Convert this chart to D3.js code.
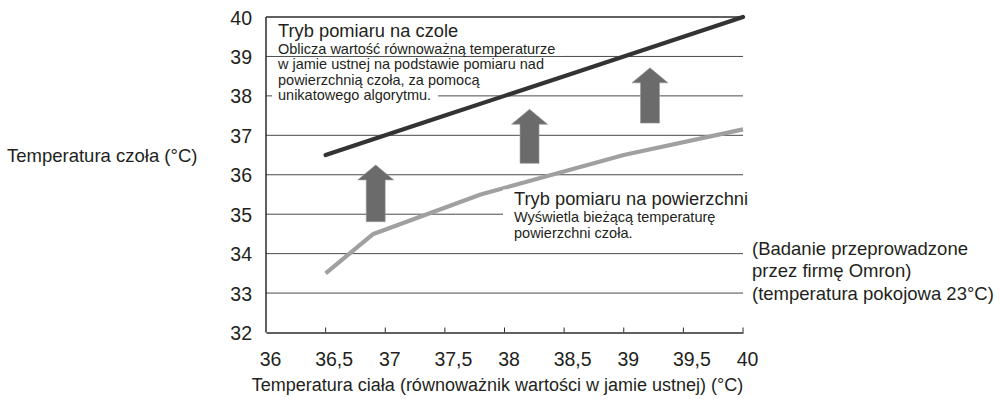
<!DOCTYPE html>
<html>
<head>
<meta charset="utf-8">
<script src="https://cdn.jsdelivr.net/npm/d3@7/dist/d3.min.js"></script>
<style>
  html, body { margin: 0; padding: 0; background: #fff; }
  svg { display: block; }
  text { font-family: "Liberation Sans", Arial, Helvetica, sans-serif; fill: #231f20; }
</style>
</head>
<body>
<svg id="chart" width="1001" height="399"></svg>
<script>
// Body temperature (oral equivalent) on the x axis
const xTickValues = [36, 36.5, 37, 37.5, 38, 38.5, 39, 39.5, 40];
const xTickLabels = ["36", "36,5", "37", "37,5", "38", "38,5", "39", "39,5", "40"];
const yTickValues = [32, 33, 34, 35, 36, 37, 38, 39, 40];
const yTickLabels = ["32", "33", "34", "35", "36", "37", "38", "39", "40"];

// Forehead mode: oral-equivalent value
const foreheadBody = [36.5, 37, 37.5, 38, 38.5, 39, 39.5, 40];
const foreheadMode = [36.5, 37, 37.5, 38, 38.5, 39, 39.5, 40];

// Surface mode: raw forehead surface temperature
const surfaceBody = [36.5, 36.9, 37.8, 39, 40];
const surfaceMode = [33.5, 34.5, 35.5, 36.5, 37.15];

// Up arrows between the two curves
const arrowBody = [36.92, 38.21, 39.22];
const arrowFrom = [34.81, 36.29, 37.31];
const arrowTo   = [36.25, 37.66, 38.71];

const foreheadText = [
  "Oblicza wartość równoważną temperaturze",
  "w jamie ustnej na podstawie pomiaru nad",
  "powierzchnią czoła, za pomocą",
  "unikatowego algorytmu."
];
const surfaceText = [
  "Wyświetla bieżącą temperaturę",
  "powierzchni czoła."
];
const noteText = [
  "(Badanie przeprowadzone",
  "przez firmę Omron)",
  "(temperatura pokojowa 23°C)"
];

const svg = d3.select("#chart");
const plotLeft = 266, plotRight = 743, plotTop = 17, plotBottom = 332.5;

const x = d3.scaleLinear().domain([36, 40]).range([plotLeft, plotRight]);
const y = d3.scaleLinear().domain([32, 40]).range([plotBottom, plotTop]);

// Horizontal grid lines
svg.append("g")
  .selectAll("line")
  .data(yTickValues.filter(v => v > 32))
  .join("line")
  .attr("x1", plotLeft).attr("x2", plotRight)
  .attr("y1", d => y(d)).attr("y2", d => y(d))
  .attr("stroke", d => d === 40 ? "#2b2b2b" : "#4a4a4a")
  .attr("stroke-width", d => d === 40 ? 1.5 : 1);

// Forehead-mode caption, each line on its own white panel
const capX = plotLeft + 12;
const foreheadG = svg.append("g");
const headingBaseline = 37;
const lineBaselines = [54, 69.3, 84.6, 99.9];
const bgG = foreheadG.append("g");
const txtG = foreheadG.append("g");
txtG.append("text")
  .attr("x", capX).attr("y", headingBaseline)
  .style("font-size", "18.3px")
  .text("Tryb pomiaru na czole");
txtG.selectAll("text.sub")
  .data(foreheadText)
  .join("text")
  .attr("class", "sub")
  .attr("x", capX)
  .attr("y", (d, i) => lineBaselines[i])
  .style("font-size", "14.5px")
  .text(d => d);
txtG.selectAll("text").each(function () {
  const b = this.getBBox();
  bgG.append("rect")
    .attr("x", b.x - 6).attr("y", b.y + 1)
    .attr("width", b.width + 13).attr("height", b.height - 2)
    .attr("fill", "#fff");
});

// Surface-mode caption on one white panel
const surfG = svg.append("g");
const surfBg = surfG.append("rect").attr("fill", "#fff");
const surfTxt = surfG.append("g");
const sx = 514;
surfTxt.append("text")
  .attr("x", sx).attr("y", 204.5)
  .style("font-size", "18.3px")
  .text("Tryb pomiaru na powierzchni");
surfTxt.selectAll("text.sub")
  .data(surfaceText)
  .join("text")
  .attr("class", "sub")
  .attr("x", sx)
  .attr("y", (d, i) => 222 + i * 15.5)
  .style("font-size", "14.5px")
  .text(d => d);
const sb = surfTxt.node().getBBox();
surfBg.attr("x", sx - 11).attr("y", sb.y + 2)
  .attr("width", plotRight + 3 - (sx - 11)).attr("height", sb.height - 2);

// Axes frame: left axis line and bottom axis with inner ticks
svg.append("line")
  .attr("x1", plotLeft).attr("x2", plotLeft)
  .attr("y1", plotTop).attr("y2", plotBottom)
  .attr("stroke", "#2b2b2b").attr("stroke-width", 1.5);

const xAxis = d3.axisBottom(x)
  .tickValues(xTickValues)
  .tickSize(0)
  .tickFormat((d, i) => xTickLabels[i]);
const gx = svg.append("g")
  .attr("transform", `translate(0,${plotBottom})`)
  .call(xAxis);
gx.select(".domain").attr("stroke", "#2b2b2b").attr("stroke-width", 1.5);
gx.selectAll(".tick line").remove();
gx.selectAll(".tick text")
  .attr("y", 33)
  .attr("dy", "0")
  .attr("dx", (d, i) => xTickLabels[i].includes(",") ? 8 : 4)
  .style("font-size", "19.5px")
  .attr("fill", "#231f20");

// Inner tick marks on the x axis
svg.append("g")
  .selectAll("line")
  .data(xTickValues.slice(1))
  .join("line")
  .attr("x1", d => x(d)).attr("x2", d => x(d))
  .attr("y1", plotBottom).attr("y2", plotBottom - 5)
  .attr("stroke", "#2b2b2b").attr("stroke-width", 1);

const yAxis = d3.axisLeft(y)
  .tickValues(yTickValues)
  .tickSize(0)
  .tickFormat((d, i) => yTickLabels[i]);
const gy = svg.append("g")
  .attr("transform", `translate(${plotLeft - 14},0)`)
  .call(yAxis);
gy.select(".domain").remove();
gy.selectAll(".tick text")
  .attr("x", 0)
  .attr("dy", "0.36em")
  .style("font-size", "19.5px")
  .attr("fill", "#231f20");
svg.selectAll(".tick text").style("font-family", "\"Liberation Sans\", Arial, sans-serif");

// Series lines
const lineGen = d3.line().x(d => x(d[0])).y(d => y(d[1]));
svg.append("path")
  .datum(surfaceBody.map((b, i) => [b, surfaceMode[i]]))
  .attr("d", lineGen)
  .attr("fill", "none")
  .attr("stroke", "#a0a0a0")
  .attr("stroke-width", 4.2)
  .attr("stroke-linejoin", "round");
svg.append("path")
  .datum(foreheadBody.map((b, i) => [b, foreheadMode[i]]))
  .attr("d", lineGen)
  .attr("fill", "none")
  .attr("stroke", "#333333")
  .attr("stroke-width", 4.2)
  .attr("stroke-linecap", "round");

// Up arrows
const shaftW = 19, headW = 36, headH = 15;
svg.append("g")
  .selectAll("path")
  .data(arrowBody.map((b, i) => ({ b, from: arrowFrom[i], to: arrowTo[i] })))
  .join("path")
  .attr("d", d => {
    const cx = x(d.b), y0 = y(d.from), y1 = y(d.to);
    const p = d3.path();
    p.moveTo(cx - shaftW / 2, y0);
    p.lineTo(cx - shaftW / 2, y1 + headH);
    p.lineTo(cx - headW / 2, y1 + headH);
    p.lineTo(cx, y1);
    p.lineTo(cx + headW / 2, y1 + headH);
    p.lineTo(cx + shaftW / 2, y1 + headH);
    p.lineTo(cx + shaftW / 2, y0);
    p.closePath();
    return p.toString();
  })
  .attr("fill", "#6b6b6b")
  .attr("stroke", "#9a9a9a")
  .attr("stroke-width", 0.6);

// Captions stay above the lines
surfG.raise();
foreheadG.raise();

// Study notes on the right
svg.append("g")
  .selectAll("text")
  .data(noteText)
  .join("text")
  .attr("x", 752)
  .attr("y", (d, i) => [254.5, 277, 299.5][i])
  .style("font-size", "18.5px")
  .text(d => d);

// Axis titles
svg.append("text")
  .attr("x", 7).attr("y", 161.5)
  .style("font-size", "18.5px")
  .text("Temperatura czoła (°C)");
svg.append("text")
  .attr("x", (plotLeft + plotRight) / 2 - 7).attr("y", 390.5)
  .attr("text-anchor", "middle")
  .style("font-size", "18px")
  .text("Temperatura ciała (równoważnik wartości w jamie ustnej) (°C)");
</script>
</body>
</html>
